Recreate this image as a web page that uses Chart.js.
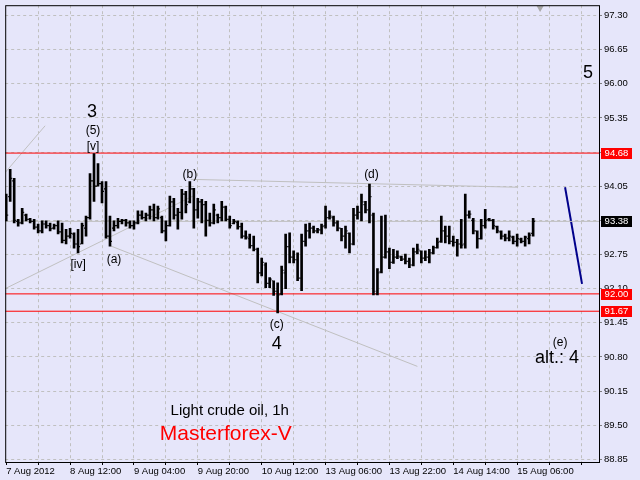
<!DOCTYPE html>
<html>
<head>
<meta charset="utf-8">
<script src="https://cdn.jsdelivr.net/npm/chart.js@4.4.1/dist/chart.umd.min.js"></script>
<style>
  html, body { margin: 0; padding: 0; background: #e6e6fa; }
  canvas { display: block; }
</style>
</head>
<body>
<canvas id="chart" width="640" height="480"></canvas>
<script>
// Light crude oil, 1h bars (index 0 = 7 Aug 2012 20:00)
const openPrices = [
  93.80, 93.85, 94.15, 93.38, 93.35, 93.50, 93.42, 93.38, 93.27, 93.20,
  93.33, 93.30, 93.25, 93.30, 93.18, 93.02, 93.10, 93.14, 92.95, 92.95,
  93.25, 93.45, 94.15, 94.05, 94.10, 94.00, 93.10, 93.25, 93.30, 93.38,
  93.40, 93.35, 93.30, 93.35, 93.50, 93.45, 93.50, 93.60, 93.45, 93.45,
  93.20, 93.30, 93.75, 93.50, 93.55, 93.90, 93.75, 94.00, 93.60, 93.75,
  93.70, 93.40, 93.35, 93.50, 93.45, 93.65, 93.42, 93.34, 93.36, 93.28,
  93.10, 93.05, 92.92, 92.85, 92.40, 92.55, 92.20, 92.25, 92.05, 92.00,
  92.40, 92.90, 92.70, 92.65, 92.30, 93.00, 93.20, 93.25, 93.20, 93.22,
  93.30, 93.45, 93.45, 93.35, 93.25, 93.10, 93.15, 92.95, 93.50, 93.55,
  93.70, 93.60, 93.50, 92.00, 92.42, 92.70, 92.80, 92.60, 92.70, 92.70,
  92.66, 92.62, 92.55, 92.80, 92.82, 92.68, 92.70, 92.78, 92.88, 93.00,
  93.20, 93.10, 93.00, 92.98, 92.95, 92.95, 93.50, 93.40, 93.20, 93.05,
  93.30, 93.42, 93.40, 93.28, 93.18, 93.10, 93.06, 93.08, 93.00, 93.04,
  93.00, 93.05, 93.15
];
const highPrices = [
  93.90, 94.37, 94.20, 93.42, 93.63, 93.52, 93.44, 93.42, 93.33, 93.39,
  93.39, 93.35, 93.33, 93.39, 93.35, 93.23, 93.25, 93.16, 93.23, 93.35,
  93.48, 94.29, 94.67, 94.48, 94.14, 94.14, 93.48, 93.39, 93.44, 93.42,
  93.42, 93.39, 93.39, 93.58, 93.58, 93.54, 93.67, 93.71, 93.67, 93.48,
  93.39, 93.86, 93.82, 93.63, 93.99, 93.95, 94.14, 94.01, 93.82, 93.80,
  93.76, 93.54, 93.71, 93.52, 93.76, 93.67, 93.48, 93.42, 93.39, 93.35,
  93.20, 93.14, 93.10, 92.87, 92.68, 92.59, 92.31, 92.25, 92.21, 92.53,
  93.14, 93.16, 92.82, 92.78, 93.14, 93.33, 93.35, 93.29, 93.25, 93.33,
  93.67, 93.58, 93.48, 93.39, 93.25, 93.29, 93.16, 93.63, 93.67, 93.90,
  93.76, 94.09, 93.54, 92.48, 93.48, 93.50, 92.87, 92.85, 92.82, 92.72,
  92.76, 92.68, 92.87, 92.95, 92.82, 92.82, 92.85, 92.91, 93.06, 93.48,
  93.29, 93.29, 93.10, 93.04, 93.42, 93.90, 93.58, 93.44, 93.20, 93.42,
  93.61, 93.44, 93.42, 93.29, 93.20, 93.14, 93.20, 93.10, 93.14, 93.06,
  93.10, 93.16, 93.44
];
const lowPrices = [
  93.39, 93.76, 93.35, 93.29, 93.33, 93.39, 93.35, 93.23, 93.16, 93.16,
  93.25, 93.20, 93.23, 93.14, 92.97, 92.95, 93.06, 92.87, 92.78, 92.95,
  93.10, 93.42, 93.76, 94.05, 93.73, 93.06, 92.91, 93.20, 93.25, 93.33,
  93.29, 93.25, 93.23, 93.33, 93.42, 93.39, 93.42, 93.39, 93.42, 93.16,
  93.01, 93.29, 93.42, 93.23, 93.42, 93.54, 93.73, 93.25, 93.44, 93.35,
  93.10, 93.29, 93.33, 93.35, 93.39, 93.39, 93.25, 93.33, 93.23, 93.06,
  93.04, 92.87, 92.82, 92.21, 92.34, 92.12, 92.12, 91.97, 91.64, 91.98,
  92.10, 92.59, 92.59, 92.25, 92.06, 92.91, 93.06, 93.16, 93.16, 93.14,
  93.25, 93.42, 93.29, 93.20, 93.01, 92.87, 92.78, 92.93, 93.42, 93.39,
  93.54, 93.35, 91.98, 91.98, 92.40, 92.68, 92.48, 92.58, 92.67, 92.63,
  92.57, 92.50, 92.53, 92.76, 92.59, 92.63, 92.59, 92.76, 92.87, 92.98,
  92.97, 92.95, 92.91, 92.72, 92.87, 92.87, 93.44, 93.14, 92.87, 93.04,
  93.25, 93.39, 93.23, 93.16, 93.04, 93.01, 93.01, 92.95, 92.91, 92.97,
  92.91, 92.95, 93.10
];
const closePrices = [
  93.50, 94.20, 93.40, 93.35, 93.55, 93.42, 93.38, 93.27, 93.20, 93.33,
  93.30, 93.24, 93.30, 93.18, 93.02, 93.10, 93.15, 92.95, 92.90, 93.30,
  93.45, 94.15, 94.05, 94.10, 93.95, 93.10, 93.00, 93.30, 93.38, 93.40,
  93.35, 93.30, 93.35, 93.50, 93.45, 93.50, 93.60, 93.45, 93.62, 93.20,
  93.30, 93.75, 93.50, 93.55, 93.90, 93.70, 94.00, 93.60, 93.75, 93.70,
  93.40, 93.35, 93.60, 93.45, 93.65, 93.42, 93.30, 93.38, 93.28, 93.10,
  93.08, 92.92, 92.85, 92.40, 92.60, 92.20, 92.28, 92.05, 91.98, 92.45,
  92.90, 92.70, 92.65, 92.30, 93.00, 93.20, 93.25, 93.20, 93.22, 93.28,
  93.45, 93.48, 93.35, 93.25, 93.10, 93.20, 92.95, 93.50, 93.55, 93.75,
  93.60, 93.85, 92.05, 92.40, 92.70, 92.80, 92.60, 92.70, 92.72, 92.66,
  92.62, 92.55, 92.80, 92.85, 92.68, 92.70, 92.78, 92.88, 92.98, 93.20,
  93.10, 93.00, 92.98, 92.95, 92.93, 93.50, 93.52, 93.20, 93.05, 93.30,
  93.40, 93.40, 93.30, 93.20, 93.10, 93.06, 93.10, 93.00, 93.05, 93.00,
  93.08, 93.12, 93.38
];

const timeLabels = ['7 Aug 2012', '8 Aug 12:00', '9 Aug 04:00', '9 Aug 20:00', '10 Aug 12:00',
  '13 Aug 06:00', '13 Aug 22:00', '14 Aug 14:00', '15 Aug 06:00'];
const priceTicks = [88.85, 89.50, 90.15, 90.80, 91.45, 92.10, 92.75, 93.40, 94.05, 94.70,
  95.35, 96.00, 96.65, 97.30];
const levelLines = [94.68, 92.00, 91.67];
const lastPrice = 93.38;

// [bar index, price, bar index, price]
const trendLines = [
  [-0.25, 94.31, 9.75, 95.20],
  [-0.25, 92.10, 46.75, 93.86],
  [26.25, 92.91, 103, 90.62],
  [46.25, 94.18, 128, 94.03]
];
const forecastLine = [140, 94.03, 144.25, 92.19];

// wave marks: [text, bar index, price, size]
const waveLabels = [
  ['3', 21.5, 95.47, 18], ['(5)', 21.75, 95.11, 12], ['[v]', 21.75, 94.80, 12],
  ['[iv]', 18, 92.55, 12], ['(a)', 27, 92.65, 12], ['(b)', 46, 94.26, 12],
  ['(c)', 67.75, 91.42, 12], ['4', 67.75, 91.04, 18], ['(d)', 91.5, 94.26, 12],
  ['5', 145.75, 96.21, 18], ['(e)', 138.75, 91.07, 12], ['alt.: 4', 138, 90.77, 18]
];

const FONT = '"Liberation Sans", Arial, sans-serif';
const BG = '#e6e6fa';
const GRID = '#c0c0c0';

function lineSet(x1, y1, x2, y2, color, width) {
  return {
    type: 'line',
    data: [{ x: x1, y: y1 }, { x: x2, y: y2 }],
    borderColor: color,
    borderWidth: width,
    pointRadius: 0,
    fill: false,
    tension: 0,
    order: 3
  };
}

const xMin = -0.25, xMax = 148.5;
const barRanges = lowPrices.map((l, i) => ({ x: i, y: [l, highPrices[i]] }));
const openTicks = openPrices.map((v, i) => ({ x: i - 0.375, y: v }));
const closeTicks = closePrices.map((v, i) => ({ x: i + 0.375, y: v }));

const datasets = [
  { type: 'bar', data: barRanges, backgroundColor: '#000', borderWidth: 0, barThickness: 2, order: 1 },
  { type: 'scatter', data: openTicks, pointStyle: 'line', pointRadius: 0.5, borderColor: '#000', borderWidth: 1.2, order: 0 },
  { type: 'scatter', data: closeTicks, pointStyle: 'line', pointRadius: 0.5, borderColor: '#000', borderWidth: 1.2, order: 0 },
  { type: 'scatter', data: [{ x: 133.75, y: 97.44 }], pointStyle: 'triangle', rotation: 180, pointRadius: 4,
    backgroundColor: '#a8a8a8', borderColor: '#a8a8a8', borderWidth: 0, order: 0 }
];
levelLines.forEach(v => datasets.push(lineSet(xMin, v, xMax, v, '#ff0000', 1)));
datasets.push(lineSet(xMin, lastPrice, xMax, lastPrice, GRID, 1));
trendLines.forEach(t => datasets.push(lineSet(t[0], t[1], t[2], t[3], GRID, 1)));
datasets.push(lineSet(...forecastLine, '#00008b', 2));

function priceBox(ctx, scale, value, fill) {
  const y = Math.round(scale.getPixelForValue(value));
  ctx.fillStyle = fill;
  ctx.fillRect(601, y - 5, 31, 11);
  ctx.fillStyle = '#fff';
  ctx.font = '9.5px ' + FONT;
  ctx.textAlign = 'center';
  ctx.textBaseline = 'middle';
  ctx.fillText(value.toFixed(2), 616.5, y + 0.5);
}

const overlayPlugin = {
  id: 'overlay',
  beforeDraw(chart) {
    const ctx = chart.ctx;
    ctx.save();
    ctx.fillStyle = BG;
    ctx.fillRect(0, 0, chart.width, chart.height);
    ctx.restore();
  },
  afterDatasetsDraw(chart) {
    const { ctx, chartArea, scales } = chart;
    ctx.save();
    ctx.textAlign = 'center';
    ctx.textBaseline = 'middle';
    ctx.fillStyle = '#000';
    waveLabels.forEach(([text, xi, price, size]) => {
      ctx.font = size + 'px ' + FONT;
      ctx.fillText(text, scales.x.getPixelForValue(xi), scales.y.getPixelForValue(price));
    });
    ctx.font = '15px ' + FONT;
    ctx.fillText('Light crude oil, 1h', scales.x.getPixelForValue(56), scales.y.getPixelForValue(89.77));
    ctx.fillStyle = '#ff0000';
    ctx.font = '21px ' + FONT;
    ctx.fillText('Masterforex-V', scales.x.getPixelForValue(55), scales.y.getPixelForValue(89.33));
    ctx.strokeStyle = '#000';
    ctx.lineWidth = 1;
    ctx.strokeRect(chartArea.left + 0.5, chartArea.top + 0.5, chartArea.width, chartArea.height);
    ctx.restore();
  },
  afterDraw(chart) {
    const ctx = chart.ctx;
    ctx.save();
    levelLines.forEach(v => priceBox(ctx, chart.scales.y, v, '#ff0000'));
    priceBox(ctx, chart.scales.y, lastPrice, '#000');
    ctx.restore();
  }
};

new Chart(document.getElementById('chart'), {
  type: 'bar',
  data: { datasets },
  plugins: [overlayPlugin],
  options: {
    responsive: false,
    animation: false,
    events: [],
    layout: { padding: { left: 4, top: 3, right: 0, bottom: 0 } },
    plugins: { legend: { display: false }, tooltip: { enabled: false } },
    scales: {
      x: {
        type: 'linear',
        min: xMin,
        max: xMax,
        offset: false,
        afterBuildTicks: s => {
          const t = [];
          for (let v = 0; v <= 144; v += 8) t.push({ value: v });
          s.ticks = t;
        },
        afterFit: s => { s.height = 18; s.paddingLeft = 0; s.paddingRight = 0; },
        border: { display: false, dash: [3, 3] },
        grid: {
          offset: false,
          color: c => (c.tick && c.tick.value === 0 ? 'rgba(0,0,0,0)' : GRID),
          tickColor: '#000',
          tickLength: 3
        },
        ticks: {
          autoSkip: false,
          maxRotation: 0,
          align: 'start',
          padding: 1,
          color: '#000',
          font: { family: FONT, size: 9.5 },
          callback: v => (v % 16 === 0 ? (timeLabels[v / 16] || '') : '')
        }
      },
      y: {
        type: 'linear',
        position: 'right',
        min: 88.80,
        max: 97.495,
        afterBuildTicks: s => { s.ticks = priceTicks.map(v => ({ value: v })); },
        afterFit: s => { s.width = 41; s.paddingTop = 0; s.paddingBottom = 0; },
        border: { display: false, dash: [3, 3] },
        grid: { color: GRID, tickColor: '#808080', tickLength: 3 },
        ticks: {
          padding: 2,
          color: '#000',
          font: { family: FONT, size: 9.5 },
          callback: v => v.toFixed(2)
        }
      }
    }
  }
});
</script>
</body>
</html>
